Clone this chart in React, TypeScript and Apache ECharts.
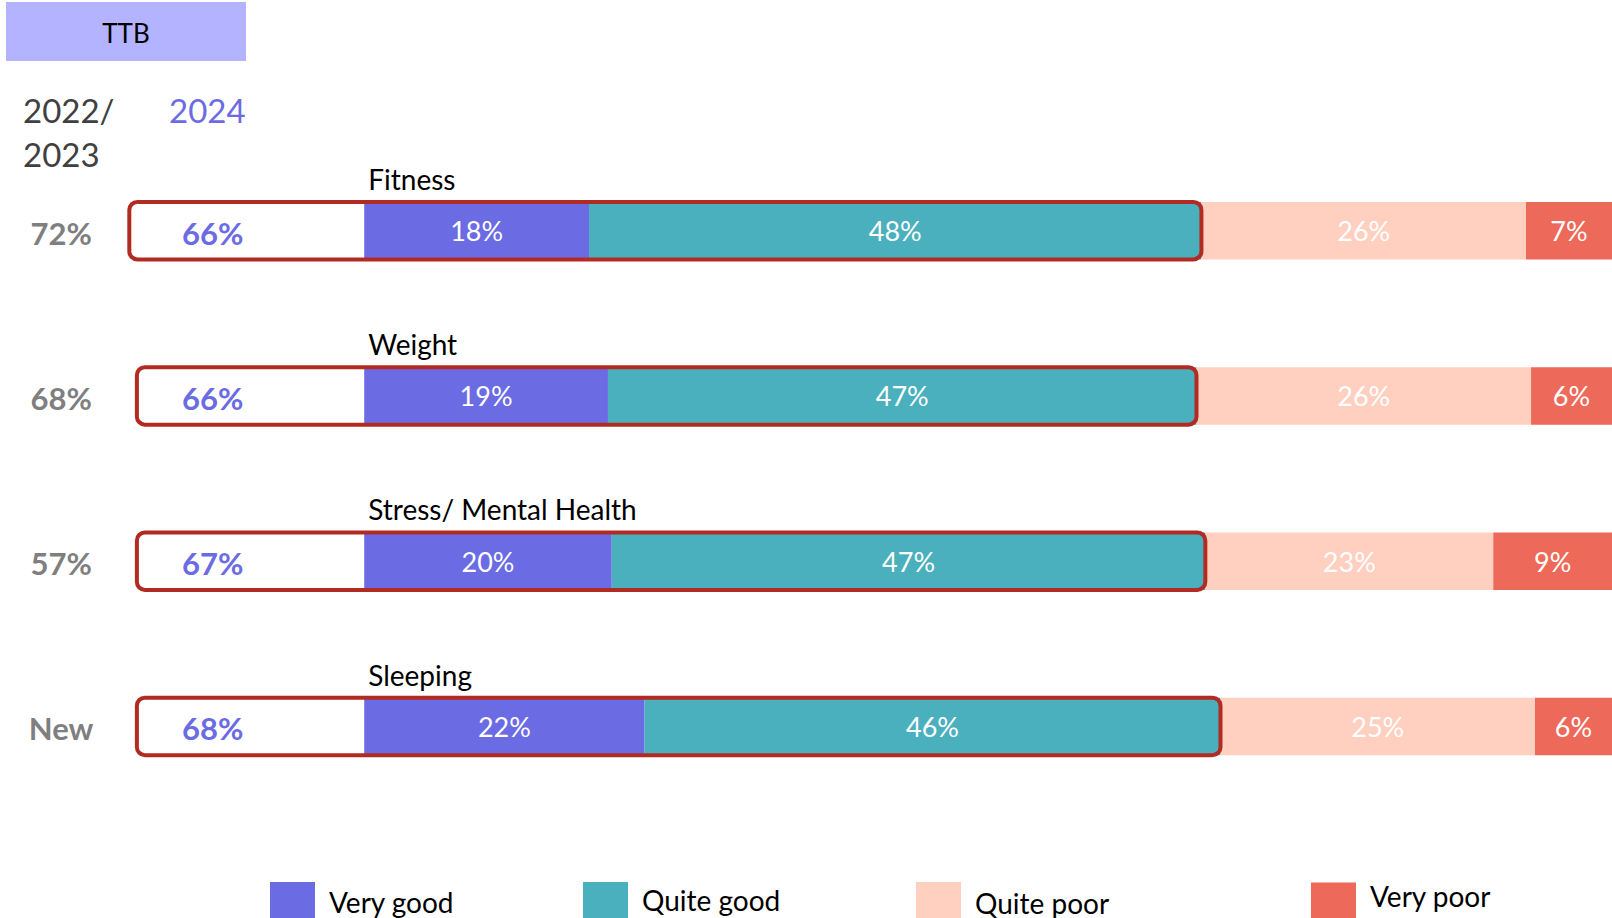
import React, { useEffect, useRef } from "react";
import * as echarts from "echarts";

const categories = ["Fitness", "Weight", "Stress/ Mental Health", "Sleeping"];
const veryGood = [17.8, 19.3, 19.6, 22.2];
const quiteGood = [48.49, 46.6, 47.0, 45.6];
const quitePoor = [25.7, 26.49, 22.8, 24.9];
const veryPoor = [7.1, 6.49, 9.45, 6.3];
const ttb2024 = [66, 66, 67, 68];
const ttbPrev = ["72%", "68%", "57%", "New"];
const seriesNames = ["Very good", "Quite good", "Quite poor", "Very poor"];
const colors = ["#6B6BE3", "#4AB0BD", "#FFCFBF", "#ED6959"];

const FONT = "Lato, 'Noto Sans', sans-serif";
const BOX_START = -18;
const TTB_LABEL_X = -12;
const PREV_LABEL_X = -24;
const BAR_H = 57.5;

export default function App() {
  const ref = useRef<HTMLDivElement>(null);
  useEffect(() => {
    if (!ref.current) return;
    const chart = echarts.init(ref.current, null, { renderer: "svg" });
    const values = [veryGood, quiteGood, quitePoor, veryPoor];
    const barSeries = values.map((vals, i) => ({
      type: "bar",
      name: seriesNames[i],
      stack: "total",
      barWidth: BAR_H,
      data: vals,
      itemStyle: { color: colors[i] },
      label: {
        show: true,
        position: "inside",
        color: "#ffffff",
        fontFamily: FONT,
        fontSize: 27,
        formatter: (p: any) => Math.round(p.value) + "%",
      },
      z: 2,
    }));
    const legendLefts = [270, 583, 916, 1311];
    const legendLift = [6, 10, 4, 18];
    const option: any = {
      animation: false,
      backgroundColor: "#ffffff",
      grid: { left: 99, right: 0, top: 148, height: 661 },
      xAxis: {
        type: "value",
        min: -21,
        max: 98.8,
        show: false,
      },
      yAxis: {
        type: "category",
        data: categories,
        inverse: true,
        axisLine: { show: false },
        axisTick: { show: false },
        splitLine: { show: false },
        axisLabel: { show: false },
      },
      legend: seriesNames.map((n, i) => ({
        data: [n],
        left: legendLefts[i] - 5,
        top: 877,
        icon: "rect",
        itemWidth: 45,
        itemHeight: 45,
        selectedMode: false,
        formatter: "{t|{name}}",
        textStyle: {
          color: "#000000",
          fontFamily: FONT,
          fontSize: 28,
          rich: {
            t: {
              color: "#000000",
              fontFamily: FONT,
              fontSize: 28,
              padding: [0, 0, legendLift[i], 9],
            },
          },
        },
      })),
      graphic: [
        {
          type: "rect",
          shape: { x: 6, y: 2, width: 240, height: 59 },
          style: { fill: "#B3B3FF" },
        },
        {
          type: "text",
          x: 126,
          y: 33,
          style: {
            text: "TTB",
            fill: "#000000",
            font: `26px ${FONT}`,
            align: "center",
            verticalAlign: "middle",
          },
        },
        {
          type: "text",
          x: 23,
          y: 110,
          style: {
            text: "2022/",
            fill: "#404040",
            font: `33px ${FONT}`,
            align: "left",
            verticalAlign: "middle",
          },
        },
        {
          type: "text",
          x: 23,
          y: 154,
          style: {
            text: "2023",
            fill: "#404040",
            font: `33px ${FONT}`,
            align: "left",
            verticalAlign: "middle",
          },
        },
        {
          type: "text",
          x: 169,
          y: 110,
          style: {
            text: "2024",
            fill: "#6B6BE3",
            font: `33px ${FONT}`,
            align: "left",
            verticalAlign: "middle",
          },
        },
      ],
      series: [
        ...barSeries,
        {
          type: "custom",
          name: "TTB",
          coordinateSystem: "cartesian2d",
          clip: false,
          z: 5,
          encode: { x: 0, y: 1 },
          data: ttb2024.map((v, i) => [quiteGood[i] + veryGood[i], i, v]),
          renderItem: (params: any, api: any) => {
            const idx = api.value(1);
            const end = api.coord([api.value(0), idx]);
            const start = api.coord([idx === 0 ? BOX_START - 0.6 : BOX_START, idx]);
            const zero = api.coord([0, idx]);
            const lab = api.coord([TTB_LABEL_X, idx]);
            const prev = api.coord([PREV_LABEL_X, idx]);
            const cy = end[1];
            return {
              type: "group",
              children: [
                {
                  type: "rect",
                  shape: {
                    x: start[0],
                    y: cy - BAR_H / 2,
                    width: end[0] - start[0],
                    height: BAR_H,
                    r: 8,
                  },
                  style: { fill: "none", stroke: "#B22B22", lineWidth: 4 },
                },
                {
                  type: "text",
                  x: lab[0],
                  y: cy + 2,
                  style: {
                    text: api.value(2) + "%",
                    fill: "#6B6BE3",
                    font: `bold 31px ${FONT}`,
                    align: "center",
                    verticalAlign: "middle",
                  },
                },
                {
                  type: "text",
                  x: prev[0],
                  y: cy + 2,
                  style: {
                    text: ttbPrev[idx],
                    fill: "#7F7F7F",
                    font: `bold 31px ${FONT}`,
                    align: "center",
                    verticalAlign: "middle",
                  },
                },
                {
                  type: "text",
                  x: zero[0] + 4,
                  y: cy - BAR_H / 2 - 23,
                  style: {
                    text: categories[idx],
                    fill: "#000000",
                    font: `28px ${FONT}`,
                    align: "left",
                    verticalAlign: "middle",
                  },
                },
              ],
            };
          },
        },
      ],
    };
    chart.setOption(option);
    return () => chart.dispose();
  }, []);
  return (
    <div
      ref={ref}
      style={{ position: "fixed", left: 0, top: 0, width: 1612, height: 918 }}
    />
  );
}
